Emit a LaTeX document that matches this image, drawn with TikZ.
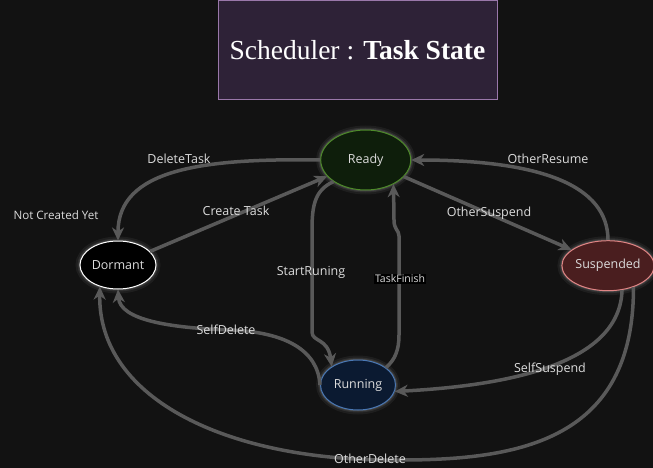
\documentclass[tikz,border=0pt]{standalone}
\usepackage{fontspec}
\setmainfont{Open Sans}
\newfontfamily\titlefont{Liberation Serif}
\usetikzlibrary{arrows.meta, shapes.geometric}
\definecolor{bgDark}{HTML}{121212}
\definecolor{edgeGray}{HTML}{595959}
\definecolor{lblGray}{HTML}{DCDCDC}
\definecolor{titleFill}{HTML}{2E2237}
\definecolor{titleLine}{HTML}{9A78AA}
\definecolor{readyFill}{HTML}{0E1E0B}
\definecolor{readyLine}{HTML}{4E8A2A}
\definecolor{runFill}{HTML}{0B1A31}
\definecolor{runLine}{HTML}{4A78B4}
\definecolor{suspFill}{HTML}{4A1E1F}
\definecolor{suspLine}{HTML}{E08585}

\begin{document}
\begin{tikzpicture}[x=1pt, y=-1pt,
      stnode/.style={ellipse, draw, line width=1pt, inner sep=0pt, text=lblGray,
        font=\fontsize{12.5}{15}\selectfont,
        preaction={draw=white, line width=9pt, opacity=0.05},
        preaction={draw=white, line width=5pt, opacity=0.08},
        preaction={draw=white, line width=2.5pt, opacity=0.12}},
      lbl/.style={text=lblGray, inner sep=1pt, font=\fontsize{12.5}{15}\selectfont},
      tr/.style={draw=edgeGray, line width=3.5pt, -{Stealth[length=13pt, width=12pt, inset=4pt]}}]
    \fill[bgDark] (0,0) rectangle (653,468);
    \useasboundingbox (0,0) rectangle (653,468);
    % title
    \node[draw=titleLine, fill=titleFill, line width=1pt, minimum width=279pt, minimum height=99pt,
          text=white, font=\titlefont\fontsize{27.5}{30}\selectfont] (title) at (357.5,50.5)
          {Scheduler : \textbf{Task State}};
    % states
    \node[stnode, fill=readyFill, draw=readyLine, minimum width=90pt, minimum height=60pt] (ready) at (365.7,160) {Ready};
    \node[stnode, fill=black, draw=white, minimum width=76pt, minimum height=48pt] (dormant) at (118,265) {Dormant};
    \node[stnode, fill=runFill, draw=runLine, minimum width=75pt, minimum height=50pt] (running) at (358,385) {Running};
    \node[stnode, fill=suspFill, draw=suspLine, minimum width=76pt, minimum height=50pt] (suspended) at (608,265.7) {Suspended};
    % transitions
    \draw[tr] (ready.west) .. controls (200,158) and (118,170) .. (dormant.north);
    \draw[tr] (dormant) -- (ready);
    \draw[tr] (suspended.north) .. controls (608,185) and (540,160) .. (ready.east);
    \draw[tr] (ready) -- (suspended);
    \draw[tr] (ready.south west) .. controls (315,190) and (312,205) .. (312,230) -- (312,332)
              .. controls (312,342) and (328,338) .. (running.145);
    \draw[tr] (running.32) .. controls (395,360) and (399,350) .. (399,335) -- (399,236)
              .. controls (399,230) and (394,230) .. (394,220) -- (ready.-41);
    \draw[tr] (running.west) .. controls (318,350) and (285,332) .. (230,330)
              .. controls (170,328) and (120,320) .. (dormant.south);
    \draw[tr] (suspended.-40) .. controls (634,440) and (520,460) .. (400,460)
              .. controls (230,462) and (98,400) .. (dormant.230);
    \draw[tr] (suspended.-60) .. controls (620,360) and (520,385) .. (running.-10);
    % labels
    \node[lbl, font=\fontsize{11.6}{14}\selectfont] (lNotYet) at (56,215) {Not Created Yet};
    \node[lbl] (lDelete) at (179,159) {DeleteTask};
    \node[lbl] (lCreate) at (236,211) {Create Task};
    \node[lbl] (lResume) at (548,159) {OtherResume};
    \node[lbl] (lSuspend) at (489,213) {OtherSuspend};
    \node[lbl] (lStart) at (311,272) {StartRuning};
    \node[lbl, fill=black, font=\fontsize{10.5}{12}\selectfont] (lFinish) at (400,279) {TaskFinish};
    \node[lbl] (lSelfDel) at (226,330) {SelfDelete};
    \node[lbl] (lSelfSusp) at (550,369) {SelfSuspend};
    \node[lbl] (lOtherDel) at (370,459) {OtherDelete};
\end{tikzpicture}
\end{document}
